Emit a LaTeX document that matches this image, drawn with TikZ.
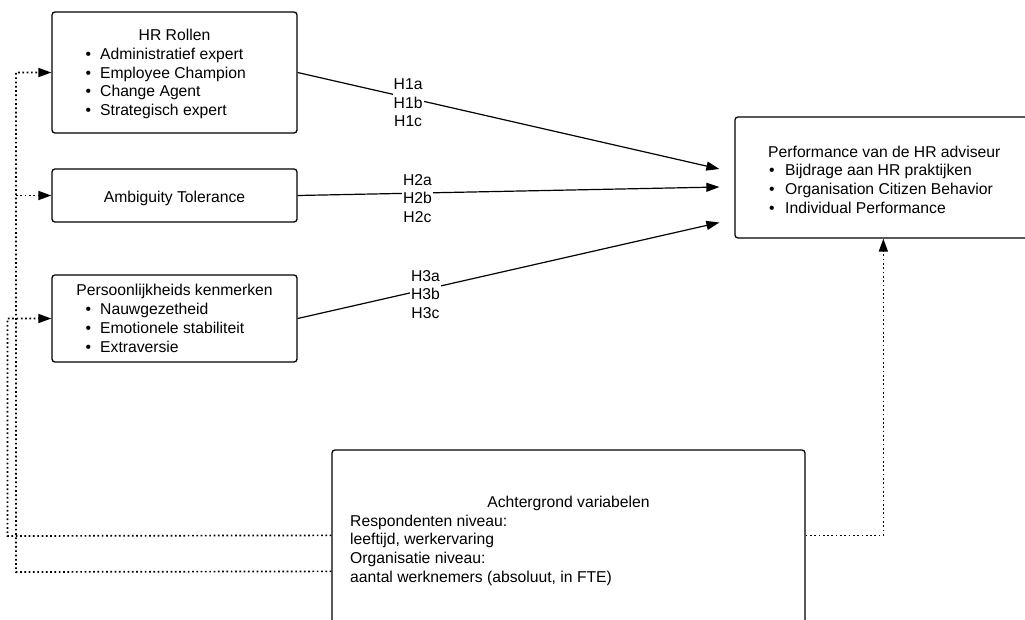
\documentclass[tikz,border=0pt]{standalone}
\usepackage{fontspec}
\setmainfont{Liberation Sans}
\usetikzlibrary{arrows.meta,calc}
\begin{document}
\begin{tikzpicture}[x=1pt,y=-1pt,
  box/.style={draw, line width=1.3pt, rounded corners=3pt, inner sep=0pt},
  txt/.style={inner sep=0pt, font=\fontsize{15.7}{18.8}\selectfont},
  arr/.style={line width=1.2pt, -{Triangle[length=13pt,width=9pt]}},
  dotline/.style={line width=1.7pt, dash pattern=on 1.7pt off 2.6pt},
  dotarr/.style={dotline, -{Triangle[length=13pt,width=9pt]}},
  hlab/.style={txt, fill=white, align=center, inner sep=1pt}
]
\useasboundingbox (0,0) rectangle (1025,619);

% boxes
\node[box, minimum width=245pt, minimum height=121pt] (hr) at (174.5,72.5) {};
\node[box, minimum width=245pt, minimum height=53pt] (amb) at (174.5,195.5) {};
\node[box, minimum width=245pt, minimum height=87pt] (pers) at (174.5,318.5) {};
\node[box, minimum width=295pt, minimum height=121pt] (perf) at (882.5,177.5) {};
\node[box, minimum width=473pt, minimum height=250pt] (bg) at (568.5,575) {};

% texts
\node[txt, anchor=base] (hrt) at (174.5,40) {HR Rollen};
\node[txt, anchor=base west] (hr1) at (85.5,59) {\makebox[14.5pt][l]{•}Administratief expert};
\node[txt, anchor=base west] (hr2) at (85.5,78) {\makebox[14.5pt][l]{•}Employee Champion};
\node[txt, anchor=base west] (hr3) at (85.5,96.5) {\makebox[14.5pt][l]{•}Change Agent};
\node[txt, anchor=base west] (hr4) at (85.5,115) {\makebox[14.5pt][l]{•}Strategisch expert};

\node[txt, anchor=base] (ambt) at (174.5,202) {Ambiguity Tolerance};

\node[txt, anchor=base] (perst) at (174.5,295) {Persoonlijkheids kenmerken};
\node[txt, anchor=base west] (pers1) at (85.5,314) {\makebox[14.5pt][l]{•}Nauwgezetheid};
\node[txt, anchor=base west] (pers2) at (85.5,333) {\makebox[14.5pt][l]{•}Emotionele stabiliteit};
\node[txt, anchor=base west] (pers3) at (85.5,352) {\makebox[14.5pt][l]{•}Extraversie};

\node[txt, anchor=base west] (perft) at (768,157) {Performance van de HR adviseur};
\node[txt, anchor=base west] (perf1) at (769,175.5) {\makebox[16pt][l]{•}Bijdrage aan HR praktijken};
\node[txt, anchor=base west] (perf2) at (769,194.5) {\makebox[16pt][l]{•}Organisation Citizen Behavior};
\node[txt, anchor=base west] (perf3) at (769,213.5) {\makebox[16pt][l]{•}Individual Performance};

\node[txt, anchor=base] (bgt) at (568.5,507) {Achtergrond variabelen};
\node[txt, anchor=base west] (bg1) at (350,526) {Respondenten niveau:};
\node[txt, anchor=base west] (bg2) at (350,544.7) {leeftijd, werkervaring};
\node[txt, anchor=base west] (bg3) at (350,563.4) {Organisatie niveau:};
\node[txt, anchor=base west] (bg4) at (350,582) {aantal werknemers (absoluut, in FTE)};

% end points of hypothesis arrows
\coordinate (e1) at ($(perf.west)+(-15,-8.5)$);
\coordinate (e2) at ($(perf.west)+(-15,9.5)$);
\coordinate (e3) at ($(perf.west)+(-15,45)$);

\draw[arr] (hr.east) -- (e1) node[hlab, pos=0.262, yshift=-5pt] (h1) {H1a\\H1b\\H1c};
\draw[arr] (amb.east) -- (e2) node[hlab, pos=0.284, yshift=-5.5pt] (h2) {H2a\\H2b\\H2c};
\draw[arr] (pers.east) -- (e3) node[hlab, pos=0.303, yshift=-5pt] (h3) {H3a\\H3b\\H3c};

% dotted control lines
\coordinate (bl1) at ($(bg.north west)+(0,86)$);
\coordinate (bl2) at ($(bg.north west)+(0,122)$);
\coordinate (br1) at ($(bg.north east)+(0,86)$);
\coordinate (pin) at ($(perf.south west)+(149,0)$);
\coordinate (cA) at (16,572);
\coordinate (cB) at (7.5,536);

\draw[dotarr] (bl2) -- (cA) |- (hr.west);
\draw[dotarr] (cA |- amb.west) -- (amb.west);
\draw[dotarr] (bl1) -- (cB) |- (pers.west);
\draw[dotarr] (br1) -| (pin);
\end{tikzpicture}
\end{document}
